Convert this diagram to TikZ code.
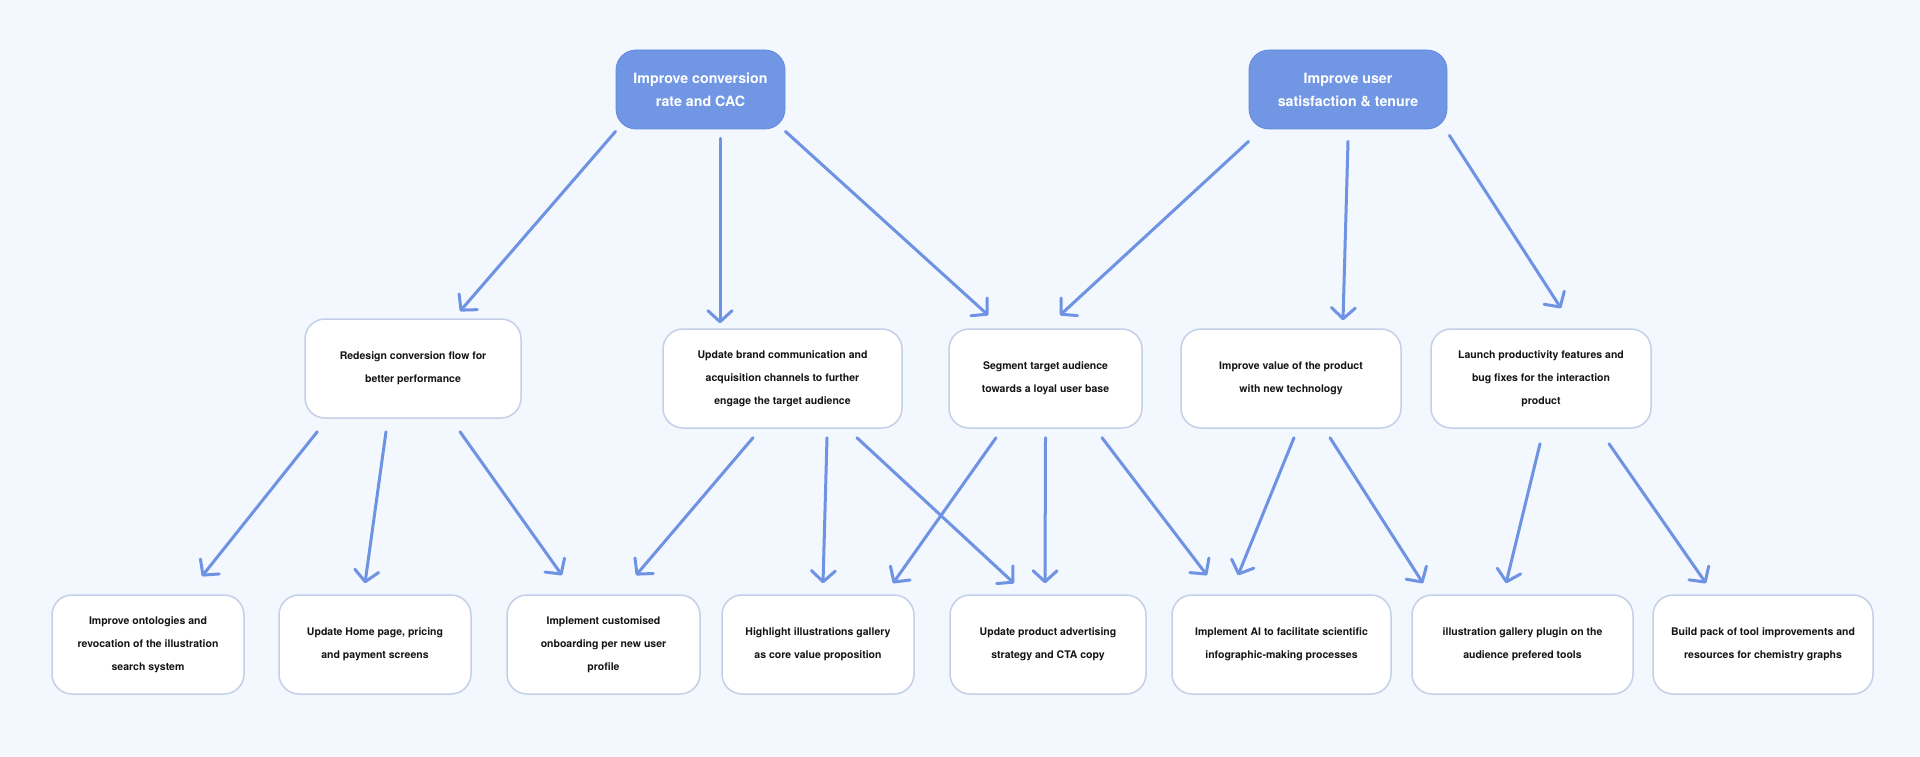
\documentclass[tikz,border=0pt]{standalone}
\usepackage{fontspec}
\setmainfont{TeX Gyre Heros}
\usetikzlibrary{arrows.meta}
\definecolor{bgcol}{RGB}{243,247,254}
\definecolor{topcol}{RGB}{112,150,228}
\definecolor{topborder}{RGB}{100,138,218}
\definecolor{arrcol}{RGB}{111,147,227}
\definecolor{bordercol}{RGB}{196,207,232}
\definecolor{txtcol}{RGB}{20,20,24}
\begin{document}
\begin{tikzpicture}[x=1pt,y=-1pt,
  topbox/.style={fill=topcol, draw=topborder, line width=0.8pt, rounded corners=20pt,
    minimum height=79pt, inner sep=0pt, align=center, text=white,
    font=\fontsize{14.2}{23}\selectfont\bfseries},
  box/.style={fill=white, draw=bordercol, line width=1.5pt, rounded corners=20pt,
    minimum height=99pt, inner sep=0pt, align=center, text=txtcol,
    font=\fontsize{10.5}{23}\selectfont\bfseries},
  arr/.style={draw=arrcol, line width=3pt, line cap=round,
    -{Straight Barb[length=11pt,width=24pt,round]}}
]
\fill[bgcol] (0,0) rectangle (1920,757);
\useasboundingbox (0,0) rectangle (1920,757);

% top row
\node[topbox, minimum width=169pt] (t1) at (700.5,89.5) {Improve conversion\\rate and CAC};
\node[topbox, minimum width=198pt] (t2) at (1348,89.5) {Improve user\\satisfaction \& tenure};

% middle row
\node[box, minimum width=216pt] (m1) at (413,368.5) {Redesign conversion flow for\\better performance};
\node[box, minimum width=239pt] (m2) at (782.5,378.5) {Update brand communication and\\acquisition channels to further\\engage the target audience};
\node[box, minimum width=193pt] (m3) at (1045.5,378.5) {Segment target audience\\towards a loyal user base};
\node[box, minimum width=220pt] (m4) at (1291,378.5) {Improve value of the product\\with new technology};
\node[box, minimum width=220pt] (m5) at (1541,378.5) {Launch productivity features and\\bug fixes for the interaction\\product};

% bottom row
\node[box, minimum width=192pt] (b1) at (148,644.5) {Improve ontologies and\\revocation of the illustration\\search system};
\node[box, minimum width=192pt] (b2) at (375,644.5) {Update Home page, pricing\\and payment screens};
\node[box, minimum width=193pt] (b3) at (603.5,644.5) {Implement customised\\onboarding per new user\\profile};
\node[box, minimum width=192pt] (b4) at (818,644.5) {Highlight illustrations gallery\\as core value proposition};
\node[box, minimum width=196pt] (b5) at (1048,644.5) {Update product advertising\\strategy and CTA copy};
\node[box, minimum width=219pt] (b6) at (1281.5,644.5) {Implement AI to facilitate scientific\\infographic-making processes};
\node[box, minimum width=221pt] (b7) at (1522.5,644.5) {illustration gallery plugin on the\\audience prefered tools};
\node[box, minimum width=220pt] (b8) at (1763,644.5) {Build pack of tool improvements and\\resources for chemistry graphs};

% arrows from top row
\draw[arr] ([shift={(0,2)}]t1.south west) -- ([shift={(47,-7)}]m1.north);
\draw[arr] ([shift={(19.5,9)}]t1.south) -- ([shift={(-62.5,-5)}]m2.north);
\draw[arr] ([shift={(0,2)}]t1.south east) -- ([shift={(40,-13)}]m3.north west);
\draw[arr] ([shift={(0,12)}]t2.south west) -- ([shift={(14.5,-13)}]m3.north);
\draw[arr] ([shift={(0,12)}]t2.south) -- ([shift={(52,-8)}]m4.north);
\draw[arr] ([shift={(2,6)}]t2.south east) -- ([shift={(20,-20)}]m5.north);

% arrows from middle row
\draw[arr] ([shift={(13,13)}]m1.south west) -- ([shift={(54,-18)}]b1.north);
\draw[arr] ([shift={(-27,13)}]m1.south) -- ([shift={(-10,-11)}]b2.north);
\draw[arr] ([shift={(47,13)}]m1.south) -- ([shift={(-41.5,-19)}]b3.north);
\draw[arr] ([shift={(-29.5,9)}]m2.south) -- ([shift={(32.5,-19)}]b3.north);
\draw[arr] ([shift={(44.5,9)}]m2.south) -- ([shift={(5,-11)}]b4.north);
\draw[arr] ([shift={(74.5,9)}]m2.south) -- ([shift={(-34,-11)}]b5.north);
\draw[arr] ([shift={(-49.5,9)}]m3.south) -- ([shift={(75,-11)}]b4.north);
\draw[arr] ([shift={(0,9)}]m3.south) -- ([shift={(-3,-11)}]b5.north);
\draw[arr] ([shift={(56.5,9)}]m3.south) -- ([shift={(-74.5,-19)}]b6.north);
\draw[arr] ([shift={(3,9)}]m4.south) -- ([shift={(-43.5,-19)}]b6.north);
\draw[arr] ([shift={(39,9)}]m4.south) -- ([shift={(-99.5,-11)}]b7.north);
\draw[arr] ([shift={(-1,15)}]m5.south) -- ([shift={(-16.5,-11)}]b7.north);
\draw[arr] ([shift={(68,15)}]m5.south) -- ([shift={(-57,-11)}]b8.north);
\end{tikzpicture}
\end{document}
